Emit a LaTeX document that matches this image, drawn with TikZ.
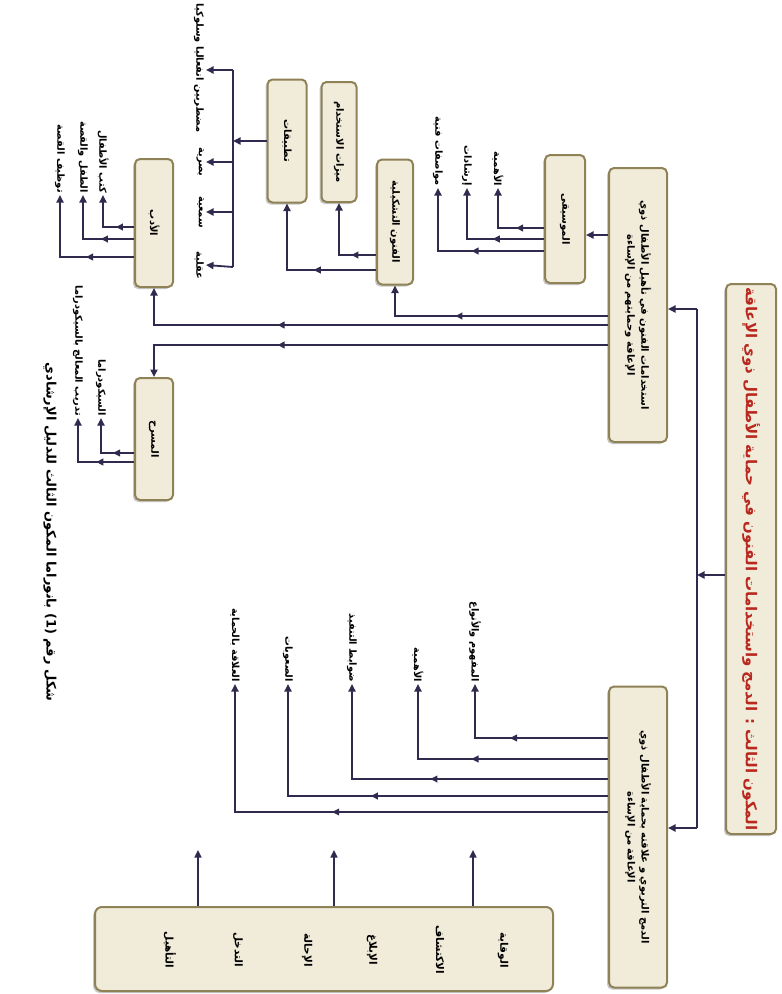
\documentclass[tikz,border=0pt]{standalone}
\usepackage{fontspec}
\newfontfamily\arabicfont[Script=Arabic]{DejaVu Sans}
\TeXXeTstate=1
\usetikzlibrary{arrows.meta,decorations.markings,shadows}
\definecolor{linec}{HTML}{2E2B4F}
\definecolor{boxf}{HTML}{F1EBD9}
\definecolor{boxb}{HTML}{8F8257}
\definecolor{titlered}{HTML}{B8281E}
\newcommand{\artxt}[1]{\beginR #1\endR}
\begin{document}
\begin{tikzpicture}[x=1pt,y=-1pt,
  box/.style={draw=boxb, line width=2pt, fill=boxf, rounded corners=5pt,
    drop shadow={shadow xshift=-2pt, shadow yshift=-2pt, opacity=0.3, fill=black!70},
    rotate=-90, inner sep=2pt, align=center, text=black,
    font=\arabicfont\bfseries\fontsize{10}{14}\selectfont},
  flatbox/.style={draw=boxb, line width=2pt, fill=boxf, rounded corners=7pt,
    drop shadow={shadow xshift=-2pt, shadow yshift=-2pt, opacity=0.3, fill=black!70}},
  lab/.style={rotate=-90, inner sep=2pt, text=black,
    font=\arabicfont\bfseries\fontsize{9.8}{11}\selectfont},
  wline/.style={draw=linec, line width=1.8pt},
  conn/.style={wline, -{Triangle[length=7.5pt,width=7pt]}},
  midarrow/.style={postaction={decorate}, decoration={markings,
    mark=at position #1 with {\fill[linec] (3.5pt,0pt) -- (-3.5pt,3.6pt) -- (-3.5pt,-3.6pt) -- cycle;}}}
]
\useasboundingbox (0,0) rectangle (782,994);
\fill[white] (0,0) rectangle (782,994);

% ---------- boxes ----------
\node[box, minimum width=550pt, minimum height=50pt, text=titlered,
  font=\arabicfont\bfseries\fontsize{15}{18}\selectfont] (title) at (751,559)
  {\artxt{المكون الثالث : الدمج واستخدامات الفنون في حماية الأطفال ذوي الإعاقة}};
\node[box, minimum width=274pt, minimum height=58pt] (box1) at (638,305)
  {\artxt{استخدامات الفنون في تأهيل الأطفال ذوي}\\\artxt{الإعاقة وحمايتهم من الإساءة}};
\node[box, minimum width=301pt, minimum height=58pt] (box2) at (638,837)
  {\artxt{الدمج التربوي و علاقته بحماية الأطفال ذوي}\\\artxt{الإعاقة من الإساءة}};
\node[box, minimum width=128pt, minimum height=40pt] (mus) at (565,219) {\artxt{الموسيقى}};
\node[box, minimum width=125pt, minimum height=36pt] (plast) at (395,222) {\artxt{الفنون التشكيلية}};
\node[box, minimum width=120pt, minimum height=35pt] (feat) at (339,142) {\artxt{ميزات الاستخدام}};
\node[box, minimum width=123pt, minimum height=39pt] (apps) at (287,141) {\artxt{تطبيقات}};
\node[box, minimum width=128pt, minimum height=38pt] (adab) at (154,223) {\artxt{الأدب}};
\node[box, minimum width=122pt, minimum height=38pt] (masr) at (154,439) {\artxt{المسرح}};
\node[flatbox, minimum width=458pt, minimum height=84pt] (bot) at (324,949) {};

% bottom box words
\node[lab, font=\arabicfont\bfseries\fontsize{10.5}{12}\selectfont] (w1) at (503,950) {\artxt{الوقاية}};
\node[lab, font=\arabicfont\bfseries\fontsize{10.5}{12}\selectfont] (w2) at (440,950) {\artxt{الاكتشاف}};
\node[lab, font=\arabicfont\bfseries\fontsize{10.5}{12}\selectfont] (w3) at (372,950) {\artxt{الإبلاغ}};
\node[lab, font=\arabicfont\bfseries\fontsize{10.5}{12}\selectfont] (w4) at (307,950) {\artxt{الإحالة}};
\node[lab, font=\arabicfont\bfseries\fontsize{10.5}{12}\selectfont] (w5) at (238,950) {\artxt{التدخل}};
\node[lab, font=\arabicfont\bfseries\fontsize{10.5}{12}\selectfont] (w6) at (170,950) {\artxt{التأهيل}};

% ---------- main bus ----------
\coordinate (bt) at (697,309);
\coordinate (bb) at (697,828);
\coordinate (bm) at (697,575);
\draw[wline] (bt) -- (bb);
\draw[conn] (bt) -- (box1.north |- bt);
\draw[conn] (bb) -- (box2.north |- bb);
\draw[conn] (title.south |- bm) -- (bm);

% ---------- music ----------
\draw[conn] (box1.south |- 0,235) -- (mus.north |- 0,235);
\node[lab, anchor=east] (m1) at (498,188) {\artxt{الأهمية}};
\node[lab, anchor=east] (m2) at (467,188) {\artxt{إرشادات}};
\node[lab, anchor=east] (m3) at (438,188) {\artxt{مواصفات فنية}};
\draw[conn] (mus.south |- 0,228) -| (m1.east);
\draw[conn] (mus.south |- 0,239) -| (m2.east);
\draw[conn] (mus.south |- 0,251) -| (m3.east);
\path[midarrow=0.53] (mus.south |- 0,228) -- (498,228);
\path[midarrow=0.62] (mus.south |- 0,239) -- (467,239);
\path[midarrow=0.65] (mus.south |- 0,251) -- (438,251);

% ---------- plastic arts ----------
\draw[conn] (box1.south |- 0,316) -| (plast.east);
\path[midarrow=0.7] (box1.south |- 0,316) -- (395,316);
\draw[conn] (plast.south |- 0,255) -| (feat.east);
\path[midarrow=0.57] (plast.south |- 0,255) -- (339,255);
\draw[conn] (plast.south |- 0,270) -| (apps.east);
\path[midarrow=0.66] (plast.south |- 0,270) -- (287,270);

% applications bus
\coordinate (ct) at (233,70);
\coordinate (cb) at (233,267);
\draw[wline] (ct) -- (cb);
\draw[conn] (apps.south) -- (apps.south -| ct);
\node[lab, anchor=north] (a1) at (206,68) {\artxt{مضطربين انفعاليا وسلوكيا}};
\node[lab, anchor=north] (a2) at (206,162) {\artxt{بصرية}};
\node[lab, anchor=north] (a3) at (206,212) {\artxt{سمعية}};
\node[lab, anchor=north] (a4) at (206,265) {\artxt{عقلية}};
\draw[conn] (ct) -- (a1.north |- ct);
\draw[conn] (a2.north -| ct) -- (a2.north);
\draw[conn] (a3.north -| ct) -- (a3.north);
\draw[conn] (cb) -- (a4.north);

% ---------- literature ----------
\draw[conn] (box1.south |- 0,325) -| (adab.east);
\path[midarrow=0.72] (box1.south |- 0,325) -- (154,325);
\node[lab, anchor=east] (d1) at (103,195) {\artxt{كتب الأطفال}};
\node[lab, anchor=east] (d2) at (83,195) {\artxt{الطفل والقصة}};
\node[lab, anchor=east] (d3) at (60,195) {\artxt{توظيف القصة}};
\draw[conn] (adab.south |- 0,227) -| (d1.east);
\draw[conn] (adab.south |- 0,239) -| (d2.east);
\draw[conn] (adab.south |- 0,257) -| (d3.east);
\path[midarrow=0.47] (adab.south |- 0,227) -- (103,227);
\path[midarrow=0.58] (adab.south |- 0,239) -- (83,239);
\path[midarrow=0.6] (adab.south |- 0,257) -- (60,257);

% ---------- theatre ----------
\draw[conn] (box1.south |- 0,345) -| (masr.west);
\path[midarrow=0.72] (box1.south |- 0,345) -- (154,345);
\node[lab, anchor=east] (t1) at (101,418) {\artxt{السيكودراما}};
\node[lab, anchor=east] (t2) at (78,418) {\artxt{تدريب المعالج بالسيكودراما}};
\draw[conn] (masr.south |- 0,453) -| (t1.east);
\draw[conn] (masr.south |- 0,462) -| (t2.east);
\path[midarrow=0.53] (masr.south |- 0,453) -- (101,453);
\path[midarrow=0.61] (masr.south |- 0,462) -- (78,462);

% ---------- integration ----------
\node[lab, anchor=east] (i1) at (475,684) {\artxt{المفهوم والأنواع}};
\node[lab, anchor=east] (i2) at (418,684) {\artxt{الأهمية}};
\node[lab, anchor=east] (i3) at (352,684) {\artxt{ضوابط التنفيذ}};
\node[lab, anchor=east] (i4) at (288,684) {\artxt{الصعوبات}};
\node[lab, anchor=east] (i5) at (235,684) {\artxt{العلاقة بالحماية}};
\draw[conn] (box2.south |- 0,738) -| (i1.east);
\draw[conn] (box2.south |- 0,759) -| (i2.east);
\draw[conn] (box2.south |- 0,779) -| (i3.east);
\draw[conn] (box2.south |- 0,796) -| (i4.east);
\draw[conn] (box2.south |- 0,812) -| (i5.east);
\path[midarrow=0.71] (box2.south |- 0,738) -- (475,738);
\path[midarrow=0.70] (box2.south |- 0,759) -- (418,759);
\path[midarrow=0.68] (box2.south |- 0,779) -- (352,779);
\path[midarrow=0.73] (box2.south |- 0,796) -- (288,796);
\path[midarrow=0.73] (box2.south |- 0,812) -- (235,812);

% ---------- bottom arrows ----------
\coordinate (u1) at (473,850);
\coordinate (u2) at (334,850);
\coordinate (u3) at (198,850);
\draw[conn, line width=1.5pt] (bot.north -| u1) -- (u1);
\draw[conn, line width=1.5pt] (bot.north -| u2) -- (u2);
\draw[conn, line width=1.5pt] (bot.north -| u3) -- (u3);

% ---------- caption ----------
\node[lab, font=\arabicfont\bfseries\fontsize{13}{15}\selectfont] (cap) at (50,532)
  {\artxt{شكل رقم \beginL(1)\endL{} بانوراما المكون الثالث للدليل الإرشادي}};
\end{tikzpicture}
\end{document}
